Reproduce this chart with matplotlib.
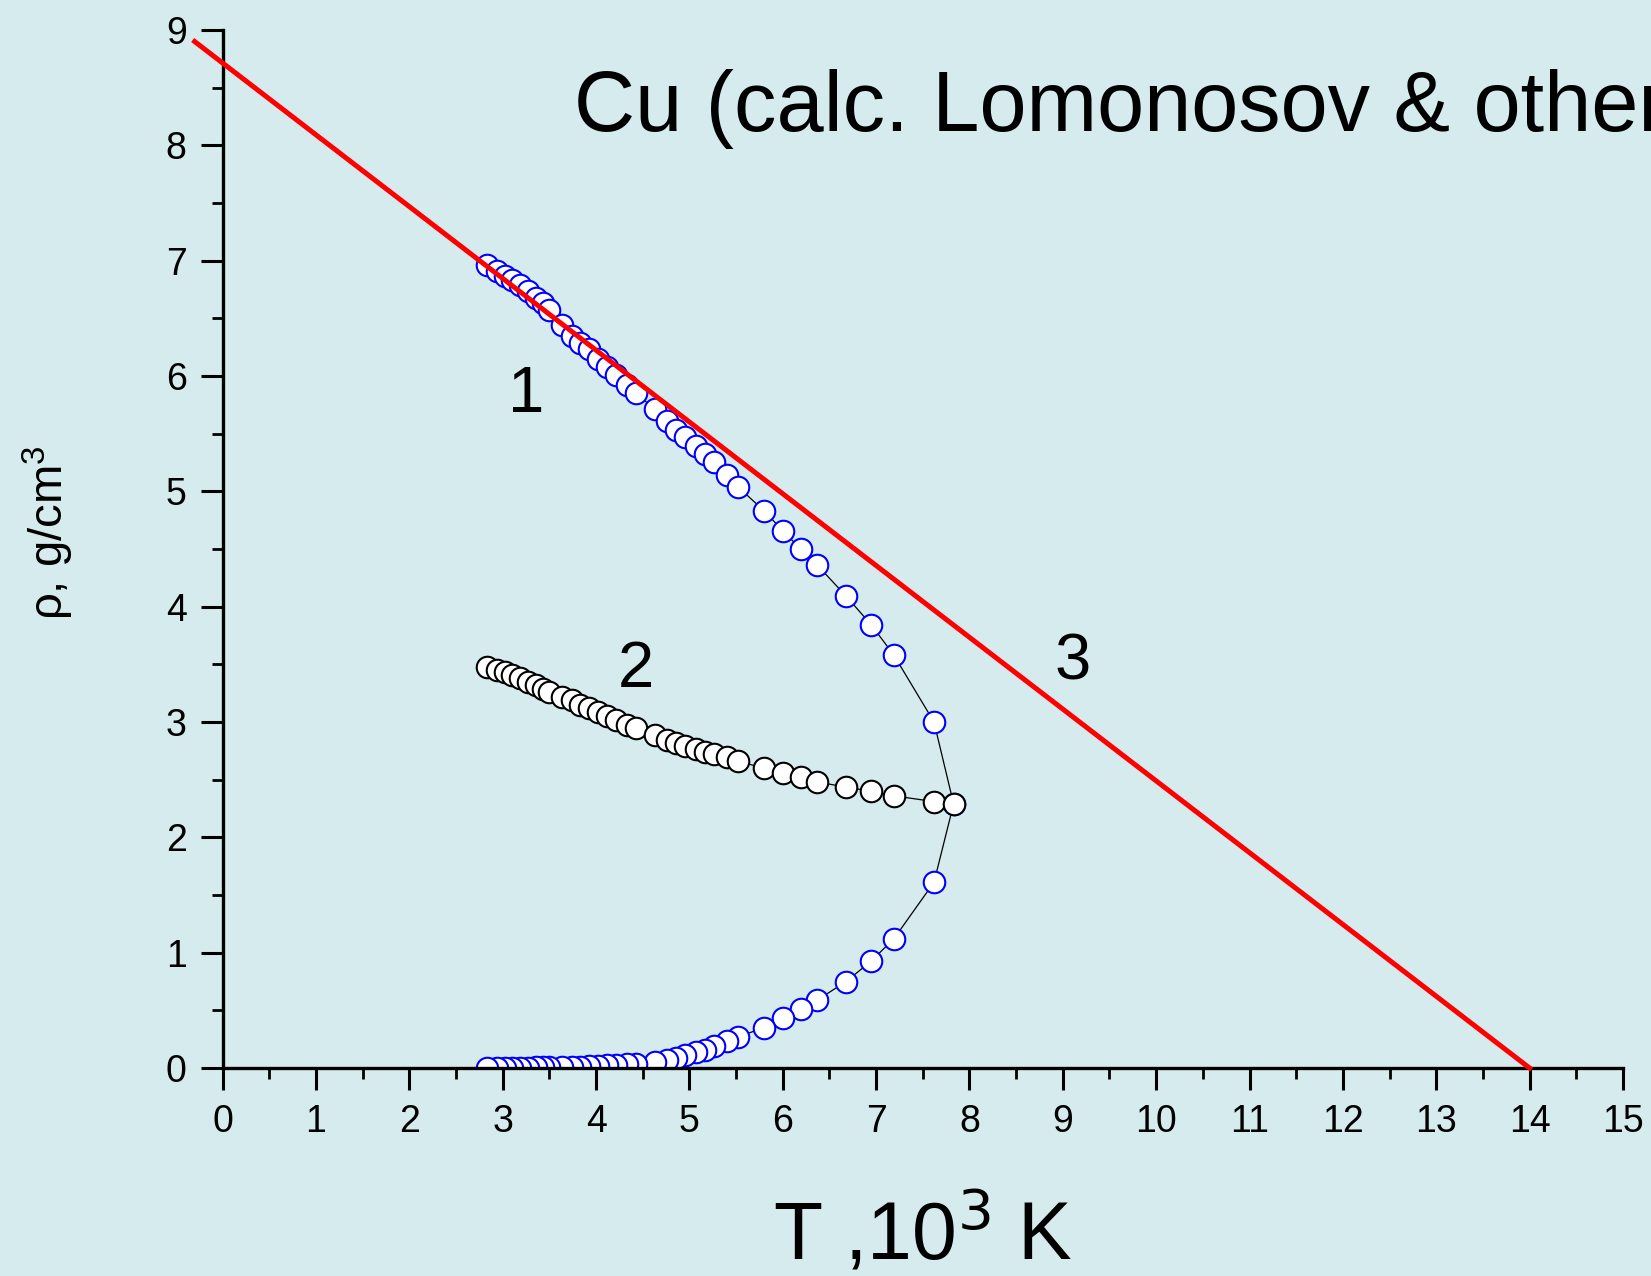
"""Cu liquid-gas coexistence curve with rectilinear diameter and zero-density line."""

import matplotlib

matplotlib.use("Agg")
import matplotlib.pyplot as plt
from matplotlib.ticker import MultipleLocator

BG = "#D6EBEE"

# temperatures of the binodal points, 10^3 K
T = [2.835, 2.94, 3.02, 3.10, 3.18, 3.27, 3.36, 3.43, 3.50,
     3.63, 3.74, 3.83, 3.92, 4.02, 4.12, 4.21, 4.33, 4.43,
     4.63, 4.755, 4.855, 4.95, 5.07, 5.17, 5.26, 5.40, 5.52,
     5.80, 6.00, 6.19, 6.37, 6.68, 6.95, 7.19, 7.62]
# liquid branch density, g/cm^3
rho_liq = [6.96, 6.91, 6.87, 6.83, 6.79, 6.74, 6.68, 6.63, 6.57,
           6.44, 6.35, 6.29, 6.23, 6.15, 6.08, 6.01, 5.92, 5.85,
           5.71, 5.61, 5.53, 5.47, 5.39, 5.32, 5.25, 5.14, 5.04,
           4.83, 4.66, 4.50, 4.36, 4.09, 3.84, 3.58, 3.00]
# gas branch density
rho_gas = [0.001, 0.001, 0.002, 0.002, 0.003, 0.004, 0.005, 0.005, 0.006,
           0.008, 0.010, 0.012, 0.015, 0.018, 0.022, 0.026, 0.032, 0.038,
           0.055, 0.070, 0.090, 0.110, 0.135, 0.160, 0.190, 0.230, 0.270,
           0.35, 0.43, 0.51, 0.59, 0.75, 0.93, 1.12, 1.61]
# rectilinear diameter (curve 2)
rho_diam = [3.48, 3.45, 3.43, 3.41, 3.38, 3.35, 3.32, 3.29, 3.26,
            3.22, 3.19, 3.15, 3.12, 3.09, 3.05, 3.02, 2.975, 2.95,
            2.89, 2.845, 2.82, 2.79, 2.77, 2.74, 2.72, 2.695, 2.66,
            2.60, 2.555, 2.52, 2.48, 2.435, 2.40, 2.36, 2.31]
# critical point
T_c = 7.83
rho_c = 2.29

# curve 3 (straight line)
T_line = [-0.3, 14.0]
rho_line = [8.90, 0.0]

plt.rcParams["font.family"] = ["Liberation Sans", "DejaVu Sans"]
plt.rcParams["mathtext.fontset"] = "custom"
plt.rcParams["mathtext.rm"] = "Liberation Sans"
plt.rcParams["mathtext.default"] = "regular"

fig = plt.figure(figsize=(16.51, 12.76), dpi=100, facecolor=BG)
ax = fig.add_axes([0.1179, 0.1630, 0.8651, 0.8135], facecolor=BG)

# curve 1: liquid branch up to Tc, then back along gas branch
T_bin = T + [T_c] + T[::-1]
rho_bin = rho_liq + [rho_c] + rho_gas[::-1]
ax.plot(T_bin, rho_bin, "-o", color="black", lw=0.9, ms=15.5,
        mfc="white", mec="#0000FF", mew=1.5, zorder=2)

# curve 2: diameter
ax.plot(T + [T_c], rho_diam + [rho_c], "-o", color="black", lw=0.9, ms=15.5,
        mfc="white", mec="black", mew=1.5, zorder=2.1)

# curve 3
ax.plot(T_line, rho_line, color="#FF0000", lw=3.6, zorder=4, clip_on=False)

ax.set_xlim(-0.3, 15)
ax.set_ylim(0, 9)

for s in ("top", "right"):
    ax.spines[s].set_visible(False)
ax.spines["left"].set_position(("data", 0))
ax.spines["bottom"].set_bounds(0, 15)
for s in ("left", "bottom"):
    ax.spines[s].set_linewidth(2.4)
    ax.spines[s].set_zorder(3)

ax.xaxis.set_major_locator(MultipleLocator(1))
ax.xaxis.set_minor_locator(MultipleLocator(0.5))
ax.yaxis.set_major_locator(MultipleLocator(1))
ax.yaxis.set_minor_locator(MultipleLocator(0.5))
ax.tick_params(which="major", direction="out", length=16, width=2.2,
               labelsize=27, pad=10)
ax.tick_params(which="minor", direction="out", length=8, width=2.0)

ax.set_xlabel(r"T ,10$^{\mathsf{3}}$ K", fontsize=58)
ax.xaxis.set_label_coords(0.51, -0.118)
ax.set_ylabel(r"ρ, g/cm$^{3}$", fontsize=34)
ax.yaxis.set_label_coords(-0.083, 0.516)

ax.text(3.76, 8.12, "Cu (calc. Lomonosov & other", fontsize=61,
        ha="left", va="baseline", clip_on=False)
ax.text(3.25, 5.69, "1", fontsize=47, ha="center", va="baseline")
ax.text(4.43, 3.30, "2", fontsize=47, ha="center", va="baseline")
ax.text(9.10, 3.365, "3", fontsize=47, ha="center", va="baseline")

fig.savefig("out.png", dpi=100, facecolor=BG)
